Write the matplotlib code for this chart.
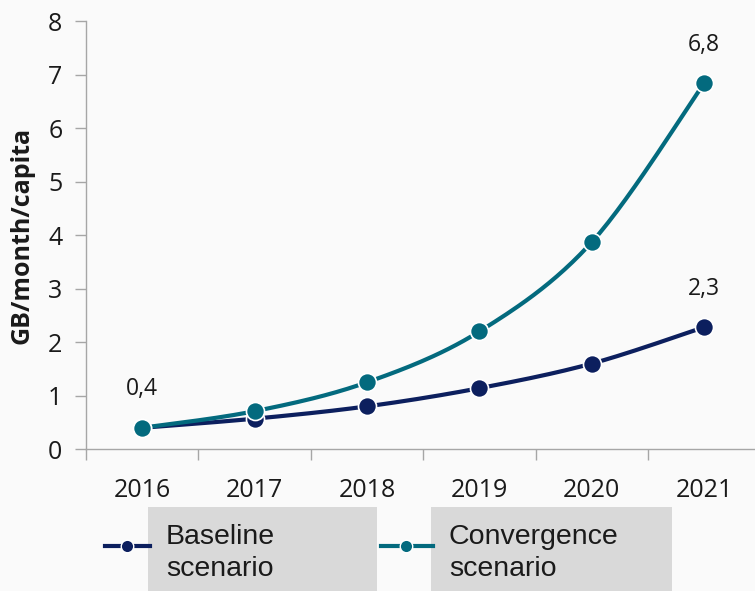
import numpy as np
import matplotlib.pyplot as plt
from matplotlib.lines import Line2D
from matplotlib.patches import Rectangle

years = ['2016', '2017', '2018', '2019', '2020', '2021']
baseline = [0.4, 0.57, 0.8, 1.14, 1.6, 2.28]
convergence = [0.4, 0.71, 1.25, 2.2, 3.87, 6.84]
end_labels = {'baseline': '2,3', 'convergence': '6,8', 'start': '0,4'}

navy = '#0C1F5E'
teal = '#036A7E'
bg = '#FAFAFA'

plt.rcParams['font.family'] = ['Open Sans', 'DejaVu Sans']


def smooth(y, n=30):
    # Excel-like smoothed line (Catmull-Rom through the points)
    x = np.arange(len(y), dtype=float)
    y = np.asarray(y, dtype=float)
    xs, ys = [], []
    for i in range(len(y) - 1):
        p0 = (x[max(i - 1, 0)], y[max(i - 1, 0)])
        p1 = (x[i], y[i])
        p2 = (x[i + 1], y[i + 1])
        p3 = (x[min(i + 2, len(y) - 1)], y[min(i + 2, len(y) - 1)])
        c1 = (p1[0] + (p2[0] - p0[0]) / 6, p1[1] + (p2[1] - p0[1]) / 6)
        c2 = (p2[0] - (p3[0] - p1[0]) / 6, p2[1] - (p3[1] - p1[1]) / 6)
        t = np.linspace(0, 1, n)
        bx = (1 - t) ** 3 * p1[0] + 3 * (1 - t) ** 2 * t * c1[0] + 3 * (1 - t) * t ** 2 * c2[0] + t ** 3 * p2[0]
        by = (1 - t) ** 3 * p1[1] + 3 * (1 - t) ** 2 * t * c1[1] + 3 * (1 - t) * t ** 2 * c2[1] + t ** 3 * p2[1]
        xs.extend(bx)
        ys.extend(by)
    return np.array(xs), np.array(ys)


fig = plt.figure(figsize=(7.55, 5.91), dpi=100, facecolor=bg)
ax = fig.add_axes([0.114, 0.240, 0.893, 0.724])
ax.set_facecolor(bg)

x = np.arange(len(years))
for vals, color in [(baseline, navy), (convergence, teal)]:
    sx, sy = smooth(vals)
    ax.plot(sx, sy, color=color, lw=3, solid_capstyle='round', zorder=2)
    ax.plot(x, vals, 'o', color=color, ms=13, mec='white', mew=1.2, zorder=3)

for pos, val, key in [(0, convergence[0], 'start'), (5, convergence[-1], 'convergence'),
                      (5, baseline[-1], 'baseline')]:
    ax.annotate(end_labels[key], (pos, val), xytext=(0, 19), textcoords='offset points',
                ha='center', va='bottom', fontsize=16.5, color='#1A1A1A')

ax.set_xlim(-0.5, 5.5)
ax.set_ylim(0, 8)
ax.set_yticks(range(0, 9))
ax.set_xticks(x)
ax.set_xticklabels(years)
ax.set_xticks(np.arange(-0.5, 6, 1), minor=True)
ax.tick_params(axis='x', which='major', length=0, pad=21, labelsize=18, colors='#1A1A1A')
ax.tick_params(axis='x', which='minor', length=8, width=1, color='#A6A6A6', direction='out')
ax.tick_params(axis='y', length=8, width=1, color='#A6A6A6', direction='out', pad=9,
               labelsize=18, labelcolor='#1A1A1A')
for s in ['top', 'right']:
    ax.spines[s].set_visible(False)
for s in ['left', 'bottom']:
    ax.spines[s].set_color('#A6A6A6')
    ax.spines[s].set_linewidth(1)
ax.set_ylabel('GB/month/capita', fontsize=18, fontweight='bold', color='#1A1A1A')
ax.yaxis.set_label_coords(-0.076, 0.5)

# legend drawn by hand, with grey boxes behind the labels
W, H = 755, 591
items = [('Baseline\nscenario', navy, 105, 148, 377),
         ('Convergence\nscenario', teal, 381, 431, 672)]
for label, color, lx, bx0, bx1 in items:
    fig.add_artist(Rectangle((bx0 / W, 0), (bx1 - bx0) / W, (H - 507) / H,
                             transform=fig.transFigure, facecolor='#D9D9D9', edgecolor='none', zorder=1))
    fig.add_artist(Line2D([lx / W, (bx0 + 2) / W], [1 - 546 / H, 1 - 546 / H], color=color, lw=3,
                          transform=fig.transFigure, zorder=2))
    fig.add_artist(Line2D([(lx + bx0) / 2 / W], [1 - 546 / H], marker='o', ms=9, color=color,
                          mec='white', mew=1, transform=fig.transFigure, zorder=3))
    fig.text((bx0 + 18) / W, 1 - 553 / H, label, fontsize=20.5, family='Liberation Sans',
             ha='left', va='center', linespacing=1.25, color='#1A1A1A', zorder=4)

fig.savefig('out.png', dpi=100, facecolor=bg)
